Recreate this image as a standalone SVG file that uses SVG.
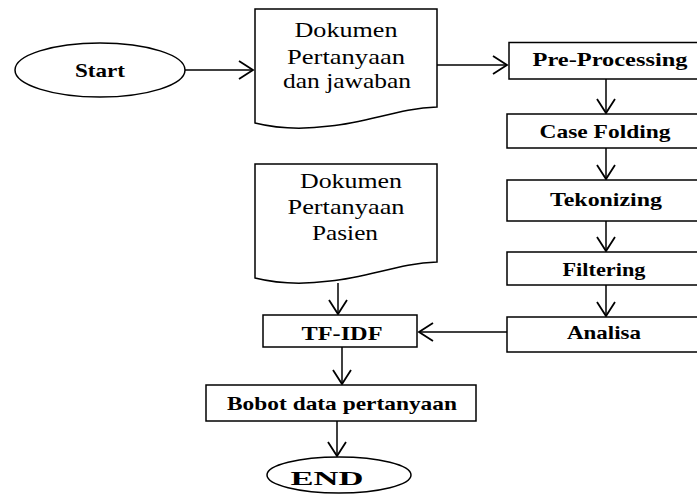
<svg xmlns="http://www.w3.org/2000/svg" width="697" height="495" viewBox="0 0 697 495">
<defs>
<style>
.s{fill:#fff;stroke:#000;stroke-width:1.5}
.c{fill:none;stroke:#000;stroke-width:1.5}
.t{font-family:'Liberation Serif','Times New Roman',serif;fill:#000;text-anchor:middle;font-weight:bold;font-size:19px}
.d{font-family:'Liberation Serif','Times New Roman',serif;fill:#000;text-anchor:middle;font-weight:normal;font-size:21px}
</style>
<marker id="a" markerUnits="userSpaceOnUse" markerWidth="20" markerHeight="22" refX="15" refY="10" orient="auto" viewBox="0 0 20 22">
<path d="M1,1 L15,10 L1,19" fill="none" stroke="#000" stroke-width="1.8"/>
</marker>
</defs>
<rect width="697" height="495" fill="#fff"/>
<g id="connectors">
<line class="c" x1="185" y1="70" x2="253" y2="70" marker-end="url(#a)"/>
<line class="c" x1="437" y1="65" x2="507" y2="65" marker-end="url(#a)"/>
<line class="c" x1="606" y1="79" x2="606" y2="113" marker-end="url(#a)"/>
<line class="c" x1="606" y1="148" x2="606" y2="179" marker-end="url(#a)"/>
<line class="c" x1="606" y1="221" x2="606" y2="251" marker-end="url(#a)"/>
<line class="c" x1="606" y1="285" x2="606" y2="316" marker-end="url(#a)"/>
<line class="c" x1="507" y1="332" x2="419" y2="332" marker-end="url(#a)"/>
<line class="c" x1="338" y1="283" x2="338" y2="314" marker-end="url(#a)"/>
<line class="c" x1="342" y1="347" x2="342" y2="384" marker-end="url(#a)"/>
<line class="c" x1="337" y1="421" x2="337" y2="456" marker-end="url(#a)"/>
</g>
<g id="start">
<ellipse class="s" cx="100" cy="70" rx="85" ry="27"/>
<text class="t" x="100" y="77" textLength="50" lengthAdjust="spacingAndGlyphs">Start</text>
</g>
<g id="doc1">
<path class="s" d="M255,9 H437 V107 C400,108 370,122 330,126 C300,130 275,128 255,123 Z"/>
<text class="d" x="346" y="37" textLength="103" lengthAdjust="spacingAndGlyphs">Dokumen</text>
<text class="d" x="346" y="64" textLength="118" lengthAdjust="spacingAndGlyphs">Pertanyaan</text>
<text class="d" x="347" y="88" textLength="128" lengthAdjust="spacingAndGlyphs">dan jawaban</text>
</g>
<g id="preprocessing">
<rect class="s" x="509" y="42.5" width="200" height="36.5"/>
<text class="t" x="610" y="66" textLength="155" lengthAdjust="spacingAndGlyphs">Pre-Processing</text>
</g>
<g id="casefolding">
<rect class="s" x="507" y="114" width="200" height="34"/>
<text class="t" x="605" y="138" textLength="131" lengthAdjust="spacingAndGlyphs">Case Folding</text>
</g>
<g id="tekonizing">
<rect class="s" x="507" y="180" width="200" height="41"/>
<text class="t" x="606" y="206" textLength="112" lengthAdjust="spacingAndGlyphs">Tekonizing</text>
</g>
<g id="filtering">
<rect class="s" x="507" y="252" width="200" height="33"/>
<text class="t" x="604" y="276" textLength="83" lengthAdjust="spacingAndGlyphs">Filtering</text>
</g>
<g id="analisa">
<rect class="s" x="507" y="317" width="200" height="35"/>
<text class="t" x="604" y="339" textLength="74" lengthAdjust="spacingAndGlyphs">Analisa</text>
</g>
<g id="doc2">
<path class="s" d="M255,164 H437 V262 C400,263 370,277 330,281 C300,285 275,283 255,278 Z"/>
<text class="d" x="351" y="188" textLength="102" lengthAdjust="spacingAndGlyphs">Dokumen</text>
<text class="d" x="346" y="214" textLength="117" lengthAdjust="spacingAndGlyphs">Pertanyaan</text>
<text class="d" x="345" y="240" textLength="66" lengthAdjust="spacingAndGlyphs">Pasien</text>
</g>
<g id="tfidf">
<rect class="s" x="263" y="315" width="154" height="32"/>
<text class="t" x="342" y="340" textLength="81" lengthAdjust="spacingAndGlyphs">TF-IDF</text>
</g>
<g id="bobot">
<rect class="s" x="206" y="385" width="270" height="36"/>
<text class="t" x="342" y="410" textLength="230" lengthAdjust="spacingAndGlyphs">Bobot data pertanyaan</text>
</g>
<g id="end">
<ellipse class="s" cx="339" cy="475" rx="72" ry="18"/>
<text class="t" x="327" y="485" textLength="73" lengthAdjust="spacingAndGlyphs">END</text>
</g>
</svg>
